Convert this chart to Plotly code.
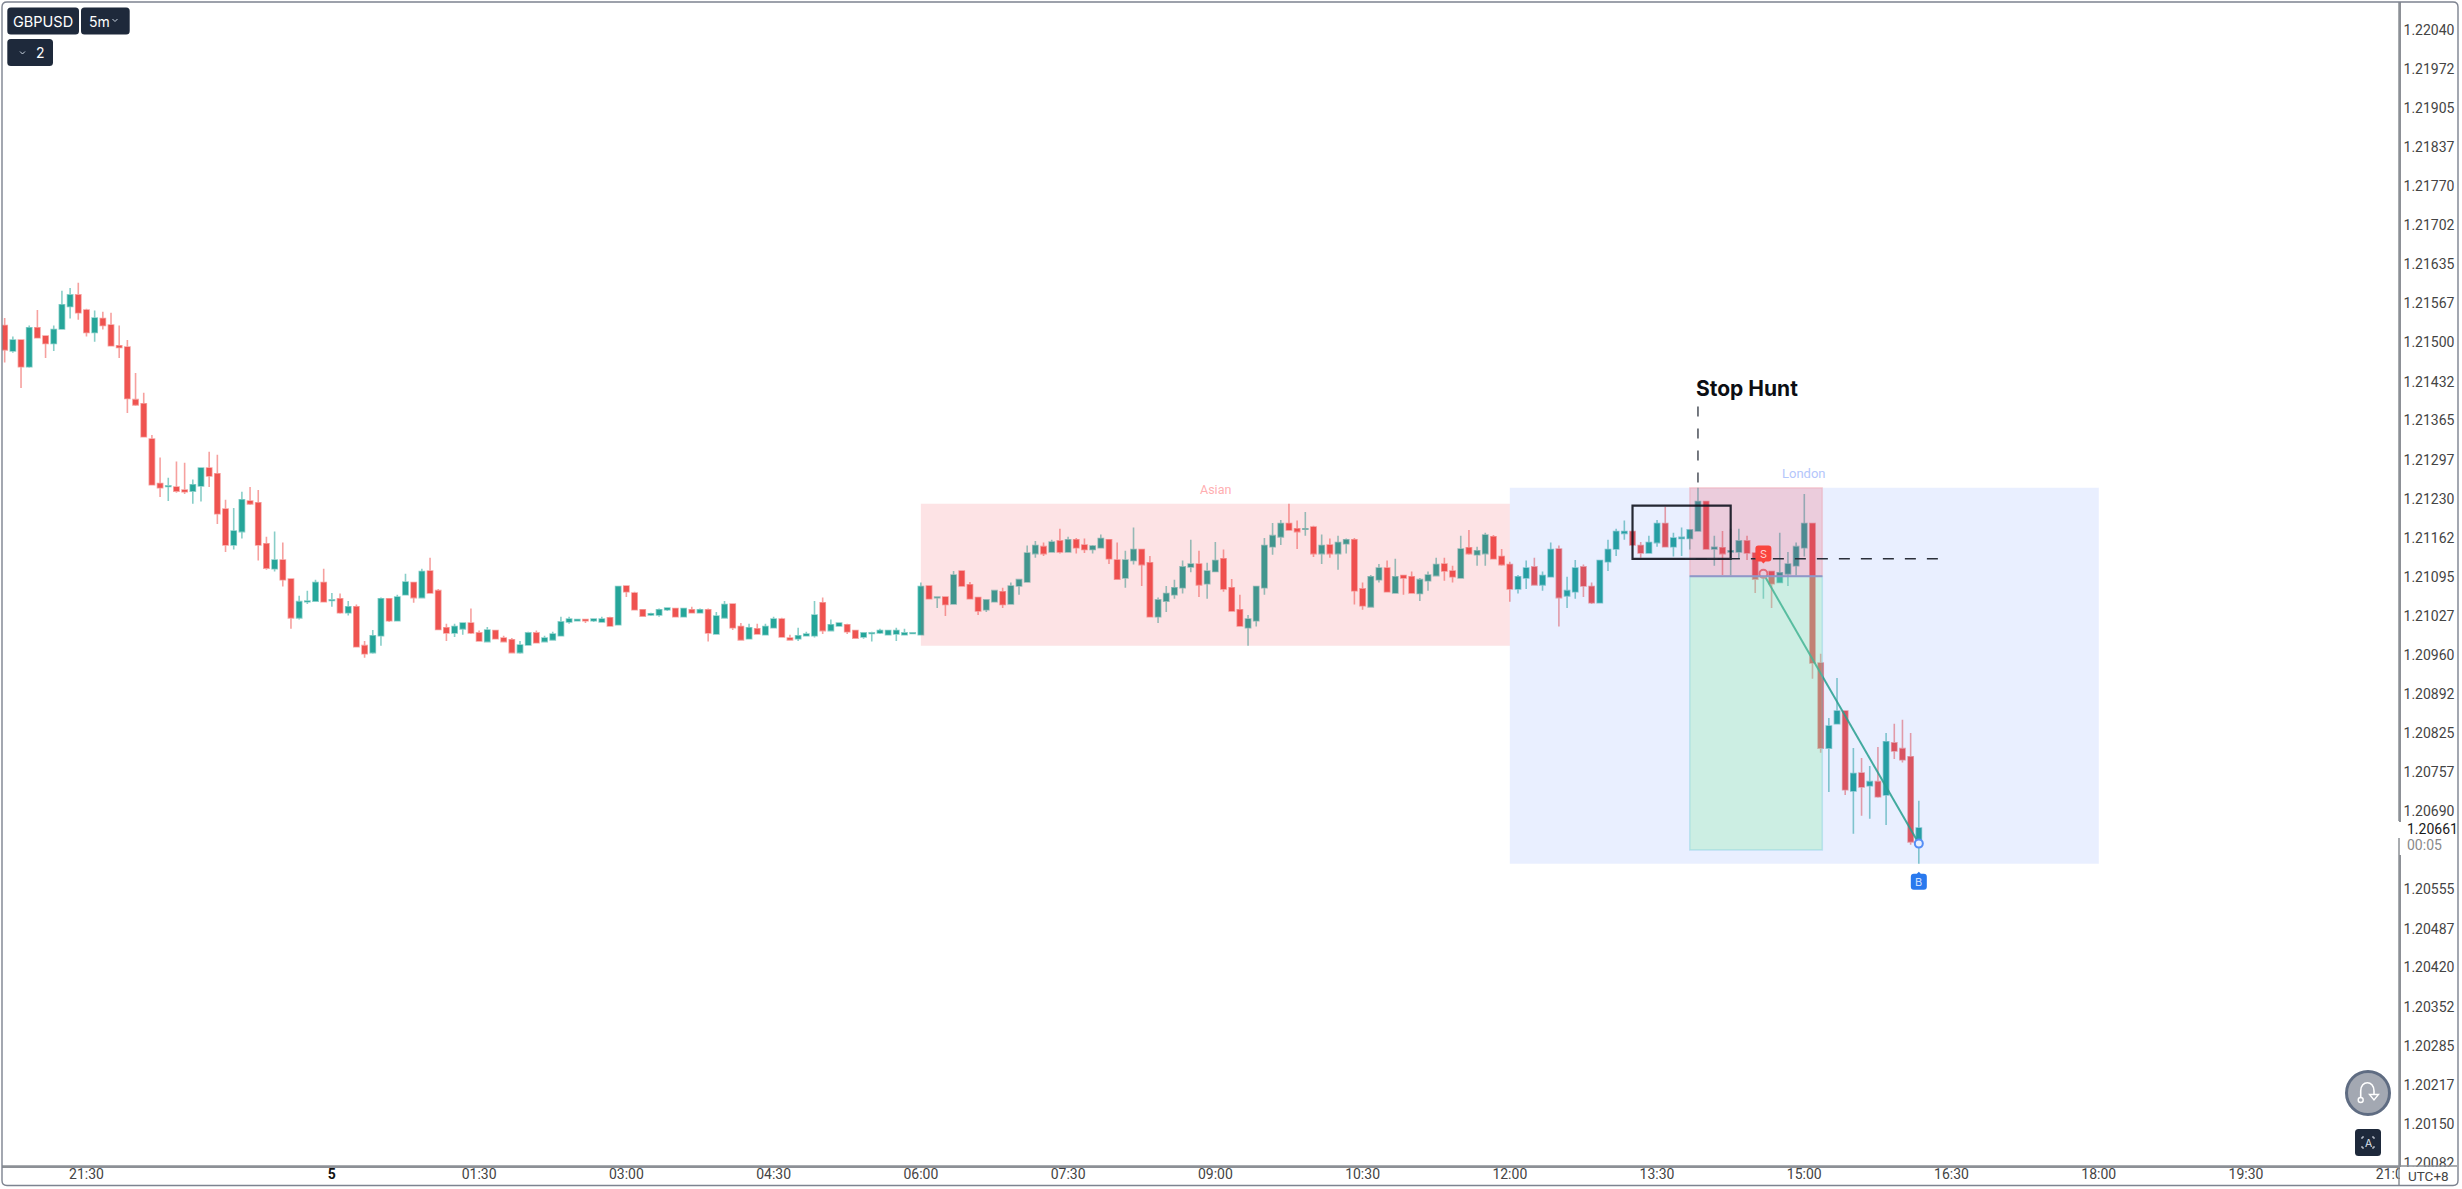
import pandas as pd
import plotly.graph_objects as go

# ---------- DATA: GBPUSD 5m, values in points above 1.20000 (1 point = 0.00001) ----------
BASE = 1.2
POINT = 0.00001
start_time = "2023-01-04 20:40"
opens = [1529,1485,1504,1458,1525,1511,1498,1523,1562,1582,
1556,1517,1541,1530,1494,1492,1401,1394,1333,1256,
1251,1250,1245,1243,1252,1283,1273,1212,1150,1173,
1226,1223,1152,1109,1124,1091,1024,1052,1053,1085,
1054,1057,1033,1043,976,964,993,1057,1019,1064,
1085,1059,1105,1071,1007,998,1005,1015,998,983,
1002,989,986,964,977,998,983,986,993,1017,
1019,1021,1019,1017,1024,1012,1079,1067,1038,1029,
1029,1038,1040,1026,1038,1033,1038,996,1024,1048,
1009,988,1005,995,1007,1022,989,988,993,993,
1050,1002,1010,1012,1002,991,997,998,995,996,
995,997,995,1079,1059,1060,1048,1105,1081,1059,
1038,1052,1069,1048,1079,1086,1135,1147,1138,1157,
1138,1159,1150,1142,1145,1159,1124,1093,1123,1142,
1119,1026,1053,1064,1076,1112,1117,1083,1104,1126,
1076,1038,1007,1019,1076,1147,1164,1187,1178,1177,
1181,1135,1150,1135,1152,1159,1074,1043,1090,1110,
1067,1097,1095,1066,1088,1097,1117,1105,1093,1145,
1133,1135,1164,1130,1116,1074,1093,1112,1081,1095,
1143,1062,1069,1112,1078,1050,1121,1143,1170,1173,
1149,1136,1154,1187,1147,1161,1161,1174,1225,1143,
1145,1138,1138,1157,1136,1098,1104,1085,1100,1114,
1145,1187,946,799,841,863,725,756,734,741,
718,808,798,784,635]
closes = [1487,1504,1458,1525,1508,1498,1522,1565,1582,1551,
1517,1542,1529,1494,1491,1403,1392,1337,1254,1249,
1252,1243,1242,1254,1283,1269,1204,1150,1174,1228,
1221,1150,1110,1124,1090,1024,1052,1053,1085,1052,
1055,1033,1043,974,962,993,1057,1019,1060,1086,
1059,1104,1067,1004,998,1009,1015,998,984,1003,
988,983,964,977,998,981,989,996,1017,1022,
1021,1019,1022,1022,1010,1078,1069,1038,1027,1031,
1038,1041,1026,1040,1033,1038,998,1027,1047,1007,
986,1007,996,1009,1022,991,986,993,996,1029,
1002,1012,1015,1000,989,998,998,1002,1002,1002,
998,998,1078,1057,1060,1047,1098,1079,1057,1036,
1055,1071,1047,1079,1090,1136,1149,1135,1155,1138,
1159,1145,1142,1148,1161,1126,1091,1124,1142,1116,
1026,1055,1066,1076,1112,1117,1081,1105,1123,1074,
1036,1010,1022,1078,1149,1166,1187,1176,1173,1178,
1135,1149,1135,1154,1159,1071,1045,1095,1110,1069,
1095,1093,1067,1090,1098,1116,1105,1095,1143,1135,
1140,1167,1126,1116,1074,1095,1110,1081,1097,1142,
1059,1071,1110,1079,1050,1123,1142,1173,1173,1150,
1136,1154,1187,1147,1162,1163,1176,1225,1143,1146,
1135,1140,1157,1136,1091,1104,1083,1102,1117,1147,
1187,946,799,837,863,727,755,732,741,715,
810,794,779,637,661]
highs = [1542,1510,1504,1529,1556,1511,1529,1589,1594,1603,
1558,1555,1553,1551,1529,1504,1447,1413,1340,1301,
1266,1294,1292,1263,1283,1311,1306,1228,1214,1242,
1250,1245,1164,1173,1154,1091,1062,1071,1090,1109,
1067,1066,1053,1047,984,1003,1059,1057,1064,1100,
1085,1109,1128,1074,1014,1014,1015,1040,1002,1008,
1003,993,989,984,1000,1002,993,1000,1026,1026,
1022,1022,1022,1026,1026,1078,1079,1069,1038,1033,
1040,1041,1040,1041,1043,1040,1040,1034,1053,1048,
1015,1014,1014,1014,1026,1024,995,1007,1000,1053,
1059,1021,1015,1014,1002,998,1000,1005,1003,1007,
1005,998,1085,1079,1060,1060,1105,1105,1086,1059,
1055,1072,1076,1085,1091,1149,1157,1154,1159,1178,
1164,1162,1161,1150,1168,1159,1154,1140,1180,1142,
1131,1059,1079,1090,1123,1159,1140,1119,1155,1142,
1091,1064,1029,1078,1162,1188,1193,1221,1192,1207,
1183,1168,1161,1166,1161,1162,1085,1098,1117,1123,
1126,1097,1104,1093,1104,1128,1128,1114,1166,1176,
1147,1171,1167,1143,1121,1098,1123,1128,1104,1154,
1149,1095,1124,1116,1085,1123,1159,1178,1192,1173,
1155,1166,1193,1216,1171,1180,1176,1249,1225,1166,
1174,1178,1178,1166,1136,1104,1104,1171,1138,1154,
1238,1188,962,851,920,863,799,782,768,801,
825,841,848,825,708]
lows = [1465,1482,1421,1456,1508,1473,1485,1522,1541,1539,
1510,1501,1522,1494,1473,1378,1390,1336,1254,1233,
1226,1240,1238,1221,1225,1250,1186,1138,1142,1161,
1219,1123,1107,1104,1078,1005,1021,1048,1053,1052,
1043,1031,1028,974,955,962,976,1017,1019,1064,
1050,1059,1067,1003,984,991,995,996,984,983,
988,983,964,962,977,981,983,986,993,1014,
1019,1015,1017,1017,1009,1012,1060,1038,1027,1027,
1026,1036,1026,1026,1033,1033,983,996,1024,1003,
986,988,996,995,1007,991,986,984,993,990,
996,1002,1010,996,989,988,983,996,995,984,
995,997,995,1057,1041,1027,1048,1079,1057,1029,
1034,1052,1041,1047,1064,1086,1128,1131,1138,1135,
1138,1135,1136,1135,1145,1117,1091,1076,1116,1079,
1026,1015,1034,1057,1066,1103,1060,1057,1104,1069,
1036,1009,976,1009,1064,1133,1150,1176,1143,1166,
1129,1117,1128,1107,1135,1047,1038,1043,1085,1069,
1067,1064,1067,1053,1071,1097,1088,1085,1093,1133,
1114,1114,1126,1114,1052,1066,1074,1081,1071,1095,
1009,1041,1057,1060,1048,1050,1105,1131,1159,1150,
1128,1136,1147,1147,1130,1131,1142,1174,1143,1114,
1098,1097,1126,1124,1067,1057,1041,1085,1079,1097,
1130,919,791,723,841,718,651,682,677,713,
666,780,774,632,599]

y_tick_labels = ["1.22040","1.21972","1.21905","1.21837","1.21770","1.21702","1.21635","1.21567",
"1.21500","1.21432","1.21365","1.21297","1.21230","1.21162","1.21095","1.21027","1.20960",
"1.20892","1.20825","1.20757","1.20690","1.20622","1.20555","1.20487","1.20420","1.20352",
"1.20285","1.20217","1.20150","1.20082"]
x_tick_times = ["2023-01-04 21:30","2023-01-05 00:00","2023-01-05 01:30","2023-01-05 03:00",
"2023-01-05 04:30","2023-01-05 06:00","2023-01-05 07:30","2023-01-05 09:00","2023-01-05 10:30",
"2023-01-05 12:00","2023-01-05 13:30","2023-01-05 15:00","2023-01-05 16:30","2023-01-05 18:00",
"2023-01-05 19:30","2023-01-05 21:00"]
x_tick_labels = ["21:30","<b><span style='color:#111'>5</span></b>","01:30","03:00","04:30","06:00",
"07:30","09:00","10:30","12:00","13:30","15:00","16:30","18:00","19:30","21:00"]

asian_session = dict(t0="2023-01-05 06:00", t1="2023-01-05 12:00", high=1.21221, low=1.20976, label="Asian")
london_session = dict(t0="2023-01-05 12:00", t1="2023-01-05 18:00", high=1.21249, low=1.20599, label="London")
position = dict(t0="2023-01-05 13:50", t1="2023-01-05 15:11", stop=1.21249, entry=1.21096, target=1.20623)
range_box = dict(t0="2023-01-05 13:15", t1="2023-01-05 14:15", high=1.21218, low=1.21126)
hunt_time = "2023-01-05 13:55"
hunt_top = 1.21389
hunt_high = 1.21249
hunt_level = 1.21126
hunt_level_start = "2023-01-05 13:47"
hunt_level_end = "2023-01-05 16:22"
trade_times = ["2023-01-05 14:35", "2023-01-05 16:10"]
trade_prices = [1.21100, 1.20634]
trade_marker_prices = [1.21135, 1.20568]
last_price = "1.20661"
countdown = "00:05"

# ---------- SCALE ----------
times = pd.date_range(start_time, periods=len(opens), freq="5min")
to_price = lambda arr: [round(BASE + v * POINT, 5) for v in arr]
W, H, ML, MR, MT, MB = 2462, 1189, 2, 63, 2, 23
PW, PH = W - ML - MR, H - MT - MB
bar = pd.Timedelta(minutes=5)
x_range = [times[0] - 0.326 * bar, times[0] + 292.7 * bar]
y_range = [1.20077, 1.22088]

FONT = "Roboto"
UI = "Inter"
NAVY = "#1e293b"
def X(p): return (p - ML) / PW
def Y(p): return 1 - (p - MT) / PH
def P(x, y): return f"{X(x):.6f},{Y(y):.6f}"
def rrect(x0, y0, x1, y1, r):
    return (f"M{P(x0+r,y0)} L{P(x1-r,y0)} Q{P(x1,y0)} {P(x1,y0+r)} L{P(x1,y1-r)} Q{P(x1,y1)} {P(x1-r,y1)} "
            f"L{P(x0+r,y1)} Q{P(x0,y1)} {P(x0,y1-r)} L{P(x0,y0+r)} Q{P(x0,y0)} {P(x0+r,y0)} Z")
def paper_path(path, fill="rgba(0,0,0,0)", color="rgba(0,0,0,0)", width=1):
    return dict(type="path", xref="paper", yref="paper", path=path, fillcolor=fill,
                line=dict(color=color, width=width), layer="above")
def paper_rect(x0, y0, x1, y1, fill):
    return dict(type="rect", xref="paper", yref="paper", x0=X(x0), x1=X(x1), y0=Y(y1), y1=Y(y0),
                fillcolor=fill, line=dict(width=0), layer="above")
def paper_line(x0, y0, x1, y1, color="#8d9096", width=1.5):
    return dict(type="line", xref="paper", yref="paper", x0=X(x0), x1=X(x1), y0=Y(y0), y1=Y(y1),
                line=dict(color=color, width=width), layer="above")
def label(x, y, text, size=14, color="white", font=UI, anchor="center"):
    return dict(xref="paper", yref="paper", x=X(x), y=Y(y), text=text, showarrow=False, xanchor=anchor,
                yanchor="middle", font=dict(family=font, size=size, color=color))
def box(s, fill):
    return dict(type="rect", xref="x", yref="y", x0=s["t0"], x1=s["t1"], y0=s["low"], y1=s["high"],
                fillcolor=fill, line=dict(width=0), layer="above")

fig = go.Figure()
fig.add_trace(go.Candlestick(
    x=times, open=to_price(opens), high=to_price(highs), low=to_price(lows), close=to_price(closes),
    increasing=dict(fillcolor="#26a69a", line=dict(color="rgba(38,166,154,0.55)", width=1.6)),
    decreasing=dict(fillcolor="#ef5350", line=dict(color="rgba(239,83,80,0.55)", width=1.6)),
    whiskerwidth=0, showlegend=False, name="GBPUSD"))
fig.add_trace(go.Scatter(
    x=trade_times, y=trade_prices, mode="lines+markers", showlegend=False,
    line=dict(color="rgba(38,166,130,0.85)", width=2),
    marker=dict(size=8, color="white", line=dict(width=2, color=["#f77c7c", "#5b93f5"]))))

shapes = [
    box(asian_session, "rgba(242,54,69,0.14)"),
    box(london_session, "rgba(41,98,255,0.10)"),
    dict(type="rect", xref="x", yref="y", x0=position["t0"], x1=position["t1"], y0=position["entry"], y1=position["stop"],
         fillcolor="rgba(242,54,69,0.19)", line=dict(color="rgba(242,54,69,0.15)", width=1.5), layer="above"),
    dict(type="rect", xref="x", yref="y", x0=position["t0"], x1=position["t1"], y0=position["target"], y1=position["entry"],
         fillcolor="rgba(140,236,161,0.30)", line=dict(color="rgba(110,200,220,0.35)", width=1.5), layer="above"),
    dict(type="line", xref="x", yref="y", x0=position["t0"], x1=position["t1"], y0=position["entry"], y1=position["entry"],
         line=dict(color="#8f97c9", width=2), layer="above"),
    dict(type="rect", xref="x", yref="y", x0=range_box["t0"], x1=range_box["t1"], y0=range_box["low"], y1=range_box["high"],
         fillcolor="rgba(0,0,0,0)", line=dict(color="rgba(19,23,34,0.92)", width=2.2), layer="above"),
    dict(type="line", xref="x", yref="y", x0=hunt_time, x1=hunt_time, y0=hunt_top, y1=hunt_high,
         line=dict(color="#555a63", width=1.6, dash="10px,12px"), layer="above"),
    dict(type="line", xref="x", yref="y", x0=hunt_level_start, x1=hunt_level_end, y0=hunt_level, y1=hunt_level,
         line=dict(color="#2a2e39", width=1.6, dash="11px,11px"), layer="above"),
]
# trade flags
flag_colors = ["#f9453f", "#2979ee"]
flag_path = ("M-5,8 L5,8 Q8,8 8,5 L8,-5 Q8,-8 5,-8 L2,-8 L0,-10 L-2,-8 L-5,-8 Q-8,-8 -8,-5 L-8,5 Q-8,8 -5,8 Z",
             "M-5,8 L-2,8 L0,10 L2,8 L5,8 Q8,8 8,5 L8,-5 Q8,-8 5,-8 L-5,-8 Q-8,-8 -8,-5 L-8,5 Q-8,8 -5,8 Z")
for t, p, c, path in zip(trade_times, trade_marker_prices, flag_colors, flag_path):
    shapes.append(dict(type="path", xref="x", yref="y", xsizemode="pixel", ysizemode="pixel", xanchor=t, yanchor=p,
                       path=path, fillcolor=c, line=dict(width=0), layer="above"))
# axis frame + last price cover
shapes += [
    paper_rect(2400, 1167, 2457, 1185, "white"),
    paper_rect(2398, 822, 2457, 855, "white"),
    paper_line(2, 1166, 2457, 1166),
    paper_line(2399, 2, 2399, 821),
    paper_line(2399, 838, 2399, 855),
    paper_line(2399, 855, 2399, 1185),
    paper_path(rrect(2, 2, 2458, 1185.5, 5), color="#7d8390", width=1.4),
    # toolbar
    paper_path(rrect(7.3, 7.5, 79, 34.5, 3.5), fill=NAVY),
    paper_path(rrect(81, 7.5, 129.7, 34.5, 3.5), fill=NAVY),
    paper_path(rrect(7.3, 39, 53, 66, 3.5), fill=NAVY),
    paper_path(f"M{P(112.5,19)} L{P(115,21.5)} L{P(117.5,19)}", color="#cbd5e1", width=1),
    paper_path(f"M{P(20,51.5)} L{P(22.5,54)} L{P(25,51.5)}", color="#cbd5e1", width=1),
    # replay button
    dict(type="circle", xref="paper", yref="paper", x0=X(2346.5), x1=X(2389.5), y0=Y(1114.5), y1=Y(1071.5),
         fillcolor="#a3a8b2", line=dict(color="#5f6c82", width=3), layer="above"),
    paper_path(f"M{P(2360.7,1097)} L{P(2360.7,1091)} C{P(2360.7,1080)} {P(2374,1080)} {P(2374,1091)} L{P(2374,1095)}",
               color="white", width=1.6),
    dict(type="circle", xref="paper", yref="paper", x0=X(2358.2), x1=X(2363.2), y0=Y(1102.5), y1=Y(1097.5),
         fillcolor="#a3a8b2", line=dict(color="white", width=1.4), layer="above"),
    paper_path(f"M{P(2369.5,1094.5)} L{P(2378.5,1094.5)} L{P(2374,1100)} Z", fill="#a3a8b2", color="white", width=1.4),
    # screenshot button
    paper_path(rrect(2355, 1129, 2381, 1156, 3.5), fill=NAVY),
    paper_path(f"M{P(2362,1139)} L{P(2362,1137)} L{P(2364,1137)}", color="#dfe5ee", width=1),
    paper_path(f"M{P(2372,1137)} L{P(2374,1137)} L{P(2374,1139)}", color="#dfe5ee", width=1),
    paper_path(f"M{P(2362,1146)} L{P(2362,1148)} L{P(2364,1148)}", color="#dfe5ee", width=1),
    paper_path(f"M{P(2372,1148)} L{P(2374,1148)} L{P(2374,1146)}", color="#dfe5ee", width=1),
]

def price_note(t, p, text, size, color, family=FONT, weight=False, anchor="center", xshift=0):
    return dict(xref="x", yref="y", x=t, y=p, text=f"<b>{text}</b>" if weight else text, showarrow=False,
                xanchor=anchor, yanchor="middle", xshift=xshift, font=dict(family=family, size=size, color=color))

annotations = [
    price_note("2023-01-05 09:00", 1.21245, asian_session["label"], 12.5, "#ffaeb1"),
    price_note("2023-01-05 15:00", 1.21273, london_session["label"], 13, "#b4c6fb"),
    price_note(hunt_time, 1.21420, "Stop Hunt", 21, "#0c0e13", family=UI, weight=True, anchor="left", xshift=-4),
    price_note(trade_times[0], trade_marker_prices[0], "S", 11, "#ffd0cf", family=UI),
    price_note(trade_times[1], trade_marker_prices[1], "B", 11, "#cfe0ff", family=UI),
    label(43, 21, "GBPUSD", 14.5),
    label(99.5, 21, "5m", 14),
    label(40, 52.5, "2", 14),
    label(2368, 1143, "A", 10.5, "#dfe5ee"),
    label(2405, 829, last_price, 14, "#1a1a1a", FONT, "left"),
    label(2405, 845, countdown, 14, "#8a8a8a", FONT, "left"),
    label(2428, 1176, "UTC+8", 13.5, "#444", FONT),
]

fig.update_layout(
    width=W, height=H, margin=dict(l=ML, r=MR, t=MT, b=MB, autoexpand=False),
    paper_bgcolor="white", plot_bgcolor="white", boxgap=0.1, showlegend=False,
    hovermode=False, shapes=shapes, annotations=annotations,
    xaxis=dict(type="date", range=x_range, rangeslider=dict(visible=False), showgrid=False, zeroline=False,
               tickmode="array", tickvals=x_tick_times, ticktext=x_tick_labels, ticks="", showline=True,
               linecolor="#8d9096", linewidth=1.5, ticklabelstandoff=-6,
               tickfont=dict(family=FONT, size=14, color="#444")),
    yaxis=dict(side="right", range=y_range, showgrid=False, zeroline=False, tickmode="array",
               tickvals=[float(v) for v in y_tick_labels], ticktext=y_tick_labels, ticks="", showline=True,
               linecolor="#8d9096", linewidth=1.5, tickfont=dict(family=FONT, size=14, color="#444")),
)
fig.write_html("out.html", config={"displayModeBar": False},
               post_script="document.body.style.margin='0';document.body.style.overflow='hidden';")
